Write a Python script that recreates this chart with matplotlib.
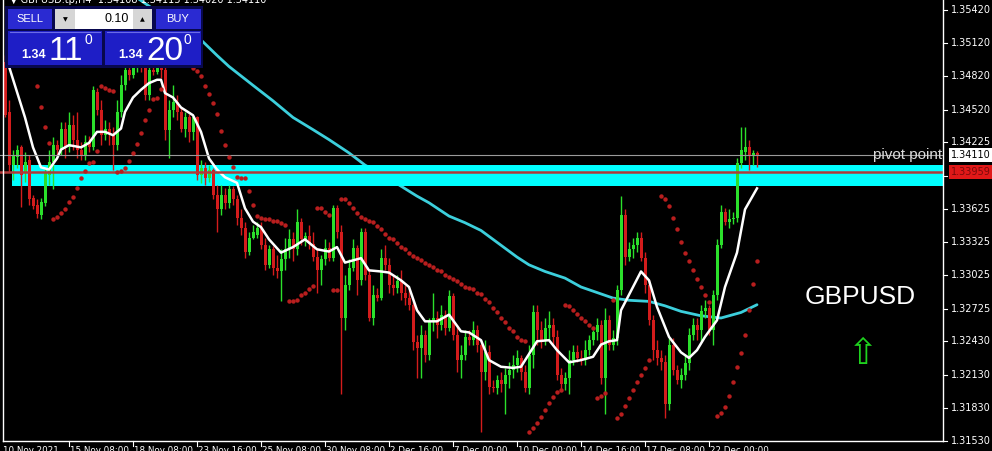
import matplotlib
matplotlib.use("Agg")
import matplotlib.pyplot as plt
from matplotlib.patches import Rectangle
import numpy as np

# ---------------- data (GBPUSD H4) ----------------
opens = [1.3495, 1.3450, 1.3402, 1.3409, 1.3418, 1.3395, 1.3407, 1.3372, 1.3366, 1.3357,
         1.3368, 1.3393, 1.3405, 1.3420, 1.3416, 1.3435, 1.3418, 1.3438, 1.3425, 1.3416,
         1.3411, 1.3423, 1.3418, 1.3468, 1.3452, 1.3429, 1.3435, 1.3430, 1.3420, 1.3450,
         1.3474, 1.3488, 1.3483, 1.3490, 1.3495, 1.3490, 1.3465, 1.3488, 1.3486, 1.3491,
         1.3488, 1.3434, 1.3452, 1.3459, 1.3450, 1.3435, 1.3445, 1.3432, 1.3445, 1.3393,
         1.3399, 1.3390, 1.3398, 1.3375, 1.3362, 1.3375, 1.3368, 1.3380, 1.3371, 1.3354,
         1.3345, 1.3324, 1.3336, 1.3339, 1.3345, 1.3330, 1.3312, 1.3326, 1.3309, 1.3306,
         1.3317, 1.3326, 1.3335, 1.3326, 1.3351, 1.3335, 1.3338, 1.3331, 1.3319, 1.3307,
         1.3317, 1.3327, 1.3318, 1.3363, 1.3342, 1.3264, 1.3294, 1.3309, 1.3327, 1.3298,
         1.3342, 1.3303, 1.3264, 1.3285, 1.3282, 1.3318, 1.3312, 1.3294, 1.3291, 1.3297,
         1.3287, 1.3282, 1.3276, 1.3242, 1.3237, 1.3249, 1.3231, 1.3261, 1.3264, 1.3258,
         1.3267, 1.3255, 1.3284, 1.3249, 1.3226, 1.3231, 1.3247, 1.3244, 1.3253, 1.3240,
         1.3215, 1.3233, 1.3202, 1.3201, 1.3208, 1.3204, 1.3213, 1.3217, 1.3222, 1.3228,
         1.3215, 1.3201, 1.3231, 1.3269, 1.3253, 1.3244, 1.3255, 1.3258, 1.3247, 1.3213,
         1.3204, 1.3210, 1.3226, 1.3233, 1.3228, 1.3226, 1.3235, 1.3244, 1.3251, 1.3258,
         1.3210, 1.3262, 1.3240, 1.3246, 1.3289, 1.3357, 1.3319, 1.3326, 1.3330, 1.3336,
         1.3318, 1.3294, 1.3262, 1.3235, 1.3228, 1.3224, 1.3186, 1.3240, 1.3217, 1.3208,
         1.3213, 1.3223, 1.3249, 1.3258, 1.3253, 1.3270, 1.3273, 1.3253, 1.3285, 1.3330,
         1.3360, 1.3351, 1.3353, 1.3354, 1.3404, 1.3414, 1.3418, 1.3411, 1.3413]

highs = [1.3501, 1.3461, 1.3416, 1.3420, 1.3420, 1.3414, 1.3411, 1.3375, 1.3371, 1.3372,
         1.3399, 1.3416, 1.3427, 1.3425, 1.3441, 1.3441, 1.3450, 1.3447, 1.3450, 1.3423,
         1.3429, 1.3428, 1.3473, 1.3472, 1.3461, 1.3443, 1.3441, 1.3436, 1.3461, 1.3483,
         1.3495, 1.3495, 1.3495, 1.3499, 1.3499, 1.3495, 1.3492, 1.3495, 1.3497, 1.3497,
         1.3492, 1.3461, 1.3474, 1.3465, 1.3454, 1.3450, 1.3448, 1.3447, 1.3446, 1.3407,
         1.3405, 1.3402, 1.3399, 1.3384, 1.3384, 1.3381, 1.3384, 1.3383, 1.3375, 1.3362,
         1.3351, 1.3342, 1.3348, 1.3351, 1.3351, 1.3336, 1.3330, 1.3329, 1.3321, 1.3326,
         1.3336, 1.3344, 1.3342, 1.3362, 1.3354, 1.3342, 1.3348, 1.3342, 1.3326, 1.3321,
         1.3335, 1.3333, 1.3366, 1.3366, 1.3348, 1.3303, 1.3317, 1.3335, 1.3330, 1.3345,
         1.3345, 1.3307, 1.3294, 1.3291, 1.3326, 1.3330, 1.3318, 1.3303, 1.3303, 1.3307,
         1.3294, 1.3289, 1.3280, 1.3249, 1.3258, 1.3253, 1.3264, 1.3287, 1.3270, 1.3276,
         1.3271, 1.3289, 1.3287, 1.3258, 1.3240, 1.3253, 1.3253, 1.3261, 1.3258, 1.3244,
         1.3244, 1.3240, 1.3208, 1.3213, 1.3215, 1.3219, 1.3224, 1.3231, 1.3235, 1.3231,
         1.3222, 1.3240, 1.3276, 1.3276, 1.3261, 1.3264, 1.3270, 1.3264, 1.3253, 1.3219,
         1.3215, 1.3235, 1.3240, 1.3240, 1.3235, 1.3244, 1.3249, 1.3253, 1.3264, 1.3262,
         1.3273, 1.3267, 1.3253, 1.3294, 1.3374, 1.3362, 1.3333, 1.3336, 1.3342, 1.3342,
         1.3324, 1.3298, 1.3267, 1.3244, 1.3235, 1.3231, 1.3246, 1.3246, 1.3222, 1.3219,
         1.3231, 1.3255, 1.3264, 1.3264, 1.3276, 1.3280, 1.3276, 1.3289, 1.3335, 1.3366,
         1.3363, 1.3362, 1.3360, 1.3408, 1.3436, 1.3436, 1.3425, 1.3416, 1.3415]

lows = [1.3445, 1.3396, 1.3389, 1.3399, 1.3364, 1.3387, 1.3366, 1.3362, 1.3354, 1.3353,
        1.3365, 1.3384, 1.3380, 1.3411, 1.3411, 1.3408, 1.3414, 1.3416, 1.3408, 1.3407,
        1.3407, 1.3414, 1.3416, 1.3447, 1.3420, 1.3425, 1.3420, 1.3398, 1.3416, 1.3445,
        1.3470, 1.3479, 1.3481, 1.3486, 1.3486, 1.3461, 1.3461, 1.3483, 1.3484, 1.3481,
        1.3425, 1.3408, 1.3445, 1.3443, 1.3432, 1.3427, 1.3423, 1.3425, 1.3389, 1.3386,
        1.3384, 1.3387, 1.3371, 1.3342, 1.3357, 1.3362, 1.3363, 1.3366, 1.3348, 1.3339,
        1.3318, 1.3321, 1.3335, 1.3336, 1.3326, 1.3307, 1.3309, 1.3303, 1.3300, 1.3279,
        1.3307, 1.3318, 1.3315, 1.3321, 1.3330, 1.3329, 1.3326, 1.3315, 1.3287, 1.3294,
        1.3312, 1.3315, 1.3315, 1.3336, 1.3195, 1.3253, 1.3289, 1.3306, 1.3285, 1.3294,
        1.3298, 1.3261, 1.3258, 1.3279, 1.3280, 1.3307, 1.3287, 1.3285, 1.3287, 1.3280,
        1.3276, 1.3271, 1.3235, 1.3210, 1.3210, 1.3224, 1.3226, 1.3252, 1.3246, 1.3253,
        1.3249, 1.3252, 1.3244, 1.3215, 1.3210, 1.3226, 1.3240, 1.3240, 1.3233, 1.3161,
        1.3208, 1.3195, 1.3197, 1.3195, 1.3197, 1.3177, 1.3201, 1.3210, 1.3215, 1.3208,
        1.3197, 1.3195, 1.3219, 1.3240, 1.3237, 1.3240, 1.3244, 1.3240, 1.3208, 1.3200,
        1.3199, 1.3195, 1.3222, 1.3224, 1.3222, 1.3222, 1.3231, 1.3240, 1.3244, 1.3204,
        1.3177, 1.3235, 1.3235, 1.3240, 1.3285, 1.3312, 1.3315, 1.3318, 1.3324, 1.3315,
        1.3287, 1.3258, 1.3226, 1.3222, 1.3217, 1.3174, 1.3181, 1.3213, 1.3204, 1.3201,
        1.3208, 1.3217, 1.3244, 1.3244, 1.3243, 1.3264, 1.3249, 1.3240, 1.3280, 1.3327,
        1.3348, 1.3345, 1.3349, 1.3351, 1.3399, 1.3407, 1.3398, 1.3402, 1.3400]

closes = [1.3447, 1.3402, 1.3410, 1.3416, 1.3393, 1.3405, 1.3371, 1.3365, 1.3358, 1.3369,
          1.3395, 1.3405, 1.3420, 1.3416, 1.3435, 1.3418, 1.3438, 1.3425, 1.3416, 1.3411,
          1.3423, 1.3418, 1.3470, 1.3452, 1.3429, 1.3435, 1.3430, 1.3420, 1.3450, 1.3474,
          1.3488, 1.3483, 1.3490, 1.3495, 1.3490, 1.3465, 1.3488, 1.3486, 1.3491, 1.3488,
          1.3434, 1.3452, 1.3459, 1.3450, 1.3435, 1.3445, 1.3432, 1.3445, 1.3393, 1.3399,
          1.3390, 1.3398, 1.3375, 1.3362, 1.3375, 1.3368, 1.3380, 1.3371, 1.3354, 1.3345,
          1.3324, 1.3336, 1.3342, 1.3345, 1.3330, 1.3312, 1.3326, 1.3309, 1.3306, 1.3317,
          1.3326, 1.3335, 1.3326, 1.3351, 1.3335, 1.3338, 1.3331, 1.3319, 1.3307, 1.3317,
          1.3327, 1.3318, 1.3363, 1.3342, 1.3264, 1.3294, 1.3309, 1.3327, 1.3298, 1.3342,
          1.3303, 1.3264, 1.3285, 1.3282, 1.3318, 1.3312, 1.3294, 1.3291, 1.3297, 1.3287,
          1.3282, 1.3276, 1.3242, 1.3237, 1.3249, 1.3231, 1.3261, 1.3264, 1.3258, 1.3267,
          1.3255, 1.3284, 1.3249, 1.3226, 1.3231, 1.3247, 1.3244, 1.3253, 1.3240, 1.3215,
          1.3233, 1.3202, 1.3201, 1.3208, 1.3204, 1.3213, 1.3217, 1.3222, 1.3228, 1.3215,
          1.3201, 1.3231, 1.3269, 1.3253, 1.3244, 1.3255, 1.3258, 1.3247, 1.3213, 1.3204,
          1.3210, 1.3226, 1.3233, 1.3228, 1.3226, 1.3235, 1.3244, 1.3251, 1.3258, 1.3210,
          1.3262, 1.3240, 1.3246, 1.3289, 1.3357, 1.3319, 1.3326, 1.3330, 1.3336, 1.3318,
          1.3294, 1.3262, 1.3235, 1.3228, 1.3224, 1.3186, 1.3240, 1.3217, 1.3208, 1.3213,
          1.3223, 1.3249, 1.3258, 1.3253, 1.3270, 1.3273, 1.3253, 1.3285, 1.3330, 1.3360,
          1.3351, 1.3353, 1.3354, 1.3404, 1.3416, 1.3418, 1.3411, 1.3413, 1.3411]

N = None
sar = [N, N, N, N, N, N, N, N,
       1.3473, 1.3454, 1.3436, 1.3422,
       1.3353, 1.3355, 1.3359, 1.3362, 1.3369, 1.3373, 1.3381, 1.3390, 1.3397, 1.3404, 1.3405, 1.3415,
       1.3473, 1.3472, 1.3470, 1.3469,
       1.3396, 1.3397, 1.3399, 1.3406, 1.3413, 1.3421, 1.3431, 1.3443, 1.3452, 1.3462, 1.3463, 1.3471,
       1.3501, 1.3500, 1.3500, 1.3499, 1.3497, 1.3495, 1.3492, 1.3490, 1.3487, 1.3482,
       1.3473, 1.3466, 1.3458, 1.3448, 1.3433, 1.3420, 1.3409, 1.3400, 1.3391, 1.3390,
       1.3390, 1.3379, 1.3366, 1.3356, 1.3354, 1.3353, 1.3353, 1.3352, 1.3352, 1.3350, 1.3348,
       1.3279, 1.3279, 1.3280, 1.3285, 1.3287, 1.3290, 1.3293,
       1.3363, 1.3363, 1.3360, 1.3357,
       1.3289, 1.3289,
       1.3371, 1.3371, 1.3368, 1.3363, 1.3359, 1.3355, 1.3353, 1.3352, 1.3351, 1.3347,
       1.3344, 1.3340, 1.3336, 1.3335, 1.3332, 1.3328, 1.3326, 1.3323, 1.3320, 1.3318,
       1.3316, 1.3314, 1.3312, 1.3310, 1.3307, 1.3306, 1.3303, 1.3301, 1.3299, 1.3297,
       1.3295, 1.3292, 1.3291, 1.3290, 1.3287, 1.3286, 1.3281, 1.3278, 1.3273, 1.3269,
       1.3264, 1.3260, 1.3255, 1.3252, 1.3247, 1.3244, 1.3243,
       1.3161, 1.3165, 1.3169, 1.3175, 1.3181, 1.3187, 1.3193, 1.3197, 1.3199,
       1.3276, 1.3275, 1.3271, 1.3268, 1.3264, 1.3261, 1.3258, 1.3255,
       1.3192, 1.3194, 1.3196,
       N,
       1.3280,
       1.3174, 1.3177, 1.3185, 1.3192, 1.3199, 1.3206, 1.3213, 1.3219, 1.3226,
       N, N,
       1.3374, 1.3371, 1.3365, 1.3354, 1.3344, 1.3333, 1.3323, 1.3315, 1.3307, 1.3299,
       1.3292, 1.3285, 1.3278,
       N,
       1.3176, 1.3178, 1.3184, 1.3194, 1.3206, 1.3220, 1.3232, 1.3249, 1.3271, 1.3295, 1.3315]

# fast moving average (white), read at bar numbers
fast_bar = [1, 5, 7, 9, 11, 13, 14, 16, 19, 21, 23, 25, 27, 29, 30, 32, 34, 36, 38, 39,
            40, 42, 44, 47, 49, 51, 53, 55, 58, 60, 62, 64, 66, 69, 72, 75, 78, 81, 83, 85,
            89, 91, 94, 96, 99, 101, 103, 105, 108, 111, 114, 116, 119, 121, 124, 127, 129, 133, 136, 138,
            141, 144, 147, 149, 151, 153, 154, 157, 159, 161, 163, 166, 169, 171, 173, 175, 178, 180, 183, 185,
            188]
fast_val = [1.3491, 1.3445, 1.3418, 1.3400, 1.3398, 1.3408, 1.3416, 1.3420, 1.3418, 1.3422,
            1.3432, 1.3432, 1.3429, 1.3435, 1.3450, 1.3463, 1.3470, 1.3476, 1.3479, 1.3479,
            1.3467, 1.3463, 1.3454, 1.3447, 1.3432, 1.3408, 1.3398, 1.3391, 1.3386, 1.3363,
            1.3351, 1.3346, 1.3335, 1.3323, 1.3328, 1.3335, 1.3326, 1.3324, 1.3328, 1.3314,
            1.3318, 1.3307, 1.3306, 1.3305, 1.3298, 1.3292, 1.3271, 1.3261, 1.3261, 1.3267,
            1.3252, 1.3251, 1.3244, 1.3226, 1.3220, 1.3219, 1.3220, 1.3243, 1.3244, 1.3235,
            1.3224, 1.3226, 1.3229, 1.3240, 1.3243, 1.3244, 1.3271, 1.3292, 1.3306, 1.3298,
            1.3274, 1.3247, 1.3233, 1.3228, 1.3235, 1.3247, 1.3262, 1.3292, 1.3323, 1.3362,
            1.3381]

# slow moving average (turquoise)
slow_bar = [33, 41, 49, 53, 56, 62, 67, 72, 77, 81, 86, 90, 95, 99, 103, 106, 111, 115, 119, 122, 125,
            128, 131, 135, 140, 144, 148, 152, 156, 161, 165, 169, 174, 179, 184, 188]
slow_val = [1.3553, 1.3533, 1.3515, 1.3501, 1.3491, 1.3474, 1.3460, 1.3445, 1.3434, 1.3425, 1.3413,
            1.3402, 1.3392, 1.3383, 1.3374, 1.3368, 1.3356, 1.3350, 1.3343, 1.3335, 1.3327,
            1.3319, 1.3312, 1.3306, 1.3300, 1.3292, 1.3287, 1.3282, 1.3280, 1.3279, 1.3275,
            1.3270, 1.3266, 1.3264, 1.3269, 1.3276]

zone_top, zone_bottom = 1.3402, 1.3383
bid_price = 1.34110
ask_price = 1.33959

price_ticks = [1.35420, 1.35120, 1.34820, 1.34520, 1.34225, 1.33925, 1.33625, 1.33325,
               1.33025, 1.32725, 1.32430, 1.32130, 1.31830, 1.31530]
time_bars = [0, 16, 32, 48, 64, 80, 96, 112, 128, 144, 160, 176]
time_labels = ["10 Nov 2021", "15 Nov 08:00", "18 Nov 08:00", "23 Nov 16:00", "25 Nov 08:00",
               "30 Nov 08:00", "2 Dec 16:00", "7 Dec 00:00", "10 Dec 00:00", "14 Dec 16:00",
               "17 Dec 08:00", "22 Dec 00:00"]

# ---------------- figure ----------------
W, H = 992, 451
BULL = "#2be02b"
BEAR = "#d41c1c"
fig = plt.figure(figsize=(W / 100, H / 100), dpi=100, facecolor="black")
ax = fig.add_axes([0, 10 / H, 943 / W, 441 / H])
ax.set_facecolor("black")
ax.set_xlim(-1.25, 234.5)
ax.set_ylim(1.3153, 1.3551)
ax.axis("off")

o = np.array(opens); h = np.array(highs); l = np.array(lows); c = np.array(closes)
x = np.arange(len(c))
col = np.where(c >= o, BULL, BEAR)

# slow MA below the zone
ax.plot(slow_bar, slow_val, color="#3ccfdc", lw=2.0, zorder=1, solid_capstyle="round",
        solid_joinstyle="round")
# zone
ax.add_patch(Rectangle((1.75, zone_bottom), 240, zone_top - zone_bottom,
                       facecolor="#00ffff", edgecolor="none", zorder=2))
# candles
ax.vlines(x, l, h, colors=col, lw=1.0, zorder=3)
body = np.maximum(np.abs(c - o), 0.00009)
ax.bar(x, body, bottom=np.minimum(o, c), width=0.75, color=col, linewidth=0, zorder=3)
# fast MA
ax.plot(fast_bar, fast_val, color="white", lw=1.8, zorder=4, solid_joinstyle="round")
# SAR
sar_arr = np.array([np.nan if v is None else v for v in sar], dtype=float)
ax.plot(x, sar_arr, linestyle="none", marker="o", ms=3.2, color="#b81e1e", mec="none", zorder=5)
# price lines
ax.axhline(bid_price, color="#9a9a9a", lw=0.8, zorder=4)
ax.axhline(ask_price, color="#b03a3a", lw=1.8, zorder=4)

# right price scale
ytr = ax.get_yaxis_transform()
for p in price_ticks:
    ax.plot([1.0, 1.0045], [p, p], transform=ytr, color="white", lw=0.8, clip_on=False)
    ax.text(1.0085, p, f"{p:.5f}", transform=ytr, color="white", fontsize=7,
            va="center", ha="left", family="DejaVu Sans", clip_on=False, zorder=6)
ax.text(1.0085, bid_price, f"{bid_price:.5f}", transform=ytr, color="black", fontsize=7,
        va="center", ha="left", family="DejaVu Sans", clip_on=False, zorder=8,
        bbox=dict(boxstyle="square,pad=0.2", fc="white", ec="none"))
ax.text(1.0085, ask_price, f"{ask_price:.5f}", transform=ytr, color="#7a0a0a", fontsize=7,
        va="center", ha="left", family="DejaVu Sans", clip_on=False, zorder=8,
        bbox=dict(boxstyle="square,pad=0.2", fc="#e01818", ec="none"))
ax.text(0.9995, bid_price, "pivot point", transform=ytr, color="#dcdcdc", fontsize=11,
        va="center", ha="right", family="Liberation Sans", zorder=7)

# time scale
xtr = ax.get_xaxis_transform()
for b, lab in zip(time_bars, time_labels):
    if b > 0:
        ax.plot([b, b], [0, -5 / 441], transform=xtr, color="white", lw=0.8, clip_on=False)
    ax.text(b + (0.2 if b > 0 else -0.4), -5 / 441, lab, transform=xtr, color="white",
            fontsize=6.3, va="top", ha="left", family="DejaVu Sans", clip_on=False)

# ---------------- pixel overlay ----------------
ov = fig.add_axes([0, 0, 1, 1])
ov.set_xlim(0, W)
ov.set_ylim(H, 0)
ov.axis("off")
ov.patch.set_alpha(0)

ov.plot([3, 943], [441, 441], color="white", lw=1.0)
ov.plot([3, 3], [0, 441], color="white", lw=1.0)
ov.plot([943, 943], [0, 441], color="white", lw=1.0)

ov.text(10, 0, "\u25bc GBPUSD.tp,H4  1.34108 1.34115 1.34020 1.34110", color="white",
        fontsize=7, va="center", ha="left", family="DejaVu Sans")

# one-click trading panel
ov.add_patch(Rectangle((5, 6), 198, 62, fc="#08084e", ec="none"))
ov.add_patch(Rectangle((8, 9), 44, 20, fc="#2a2ad2", ec="none"))
ov.add_patch(Rectangle((156, 9), 45, 20, fc="#2a2ad2", ec="none"))
ov.add_patch(Rectangle((55, 9), 20, 20, fc="#d6d6d6", ec="none"))
ov.add_patch(Rectangle((75, 9), 58, 20, fc="white", ec="none"))
ov.add_patch(Rectangle((133, 9), 19, 20, fc="#d6d6d6", ec="none"))
ov.add_patch(Rectangle((8, 31), 94, 34, fc="#1e1ec6", ec="none"))
ov.add_patch(Rectangle((105, 31), 96, 34, fc="#1e1ec6", ec="none"))
ov.plot([10, 100], [31.5, 31.5], color="#6a6ae8", lw=0.8)
ov.plot([107, 199], [31.5, 31.5], color="#6a6ae8", lw=0.8)

ov.text(30, 19.5, "SELL", color="white", fontsize=8, ha="center", va="center", family="Liberation Sans")
ov.text(178, 19.5, "BUY", color="white", fontsize=8, ha="center", va="center", family="Liberation Sans")
ov.text(65, 19.5, "\u25bc", color="black", fontsize=4.5, ha="center", va="center", family="DejaVu Sans")
ov.text(142, 19.5, "\u25b2", color="black", fontsize=4.5, ha="center", va="center", family="DejaVu Sans")
ov.text(129, 19.5, "0.10", color="black", fontsize=9, ha="right", va="center", family="Liberation Sans")

ov.text(34, 58, "1.34", color="white", fontsize=9, ha="center", va="baseline",
        family="Liberation Sans", fontweight="bold")
ov.text(66, 60, "11", color="white", fontsize=24, ha="center", va="baseline", family="Liberation Sans")
ov.text(88, 44, "0", color="white", fontsize=10, ha="center", va="baseline", family="Liberation Sans")
ov.text(131, 58, "1.34", color="white", fontsize=9, ha="center", va="baseline",
        family="Liberation Sans", fontweight="bold")
ov.text(165, 60, "20", color="white", fontsize=24, ha="center", va="baseline", family="Liberation Sans")
ov.text(187, 44, "0", color="white", fontsize=10, ha="center", va="baseline", family="Liberation Sans")

ov.text(805, 297, "GBPUSD", color="white", fontsize=19, ha="left", va="center", family="Liberation Sans")
ov.text(863, 354, "\u21e7", color="#1ed21e", fontsize=26, ha="center", va="center", family="DejaVu Sans")

fig.savefig("out.png", dpi=100, facecolor="black")
